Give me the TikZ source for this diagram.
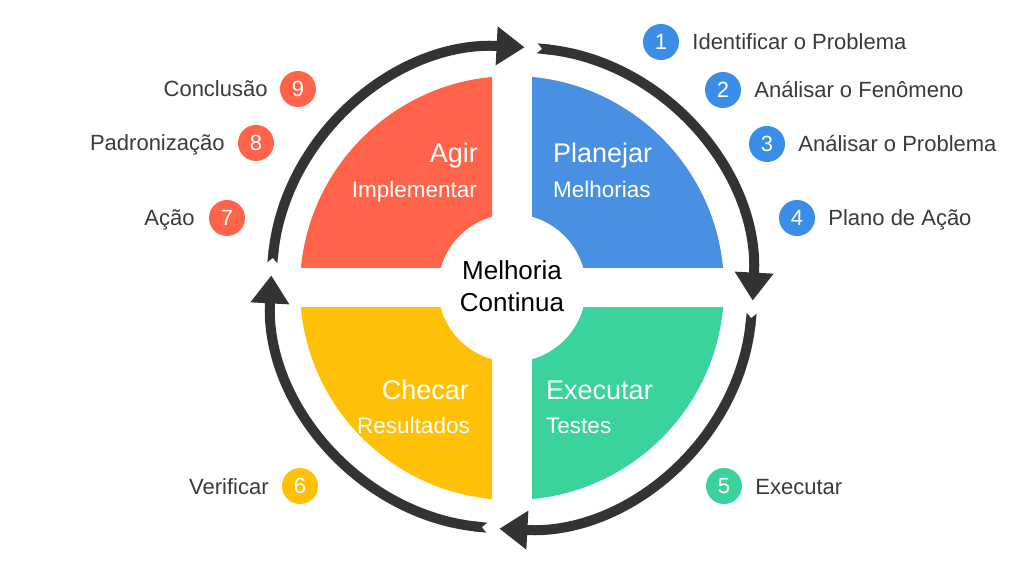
\documentclass[tikz,border=0pt]{standalone}
\usepackage{fontspec}
\setmainfont{Liberation Sans}
\usetikzlibrary{arrows.meta,positioning}

\definecolor{agirred}{HTML}{FF634A}
\definecolor{planblue}{HTML}{4A90E2}
\definecolor{checyellow}{HTML}{FFC107}
\definecolor{execgreen}{HTML}{3BD39C}
\definecolor{badgeblue}{HTML}{3A8EE8}
\definecolor{ringgray}{HTML}{333333}
\definecolor{textgray}{HTML}{3A3A3A}

\tikzset{
	ring/.style={line width=10pt, draw=ringgray, line cap=butt,
		{Triangle Cap[reversed]}-{Triangle[length=28pt,width=37pt]}},
	badge/.style={circle, fill=#1, text=white, minimum size=36pt, inner sep=0pt,
		font=\fontsize{22}{22}\selectfont},
	steplabel/.style={text=textgray, inner sep=0pt, text height=16pt, text depth=0pt,
		font=\fontsize{22}{26}\selectfont},
	qtitle/.style={text=white, inner sep=0pt, font=\fontsize{27}{30}\selectfont},
	qsub/.style={text=white, inner sep=0pt, font=\fontsize{22.5}{26}\selectfont},
	centertext/.style={text=black, inner sep=0pt, font=\fontsize{26}{30}\selectfont},
}

\begin{document}
\begin{tikzpicture}[x=1pt,y=1pt]
	\useasboundingbox[fill=white] (-512,-287) rectangle (512,288);
	
	% Quadranten
	\begin{scope}
		\clip (20,20) rectangle (240,240);
		\fill[planblue, even odd rule] (0,0) circle (212) (0,0) circle (74);
	\end{scope}
	\begin{scope}
		\clip (-20,20) rectangle (-240,240);
		\fill[agirred, even odd rule] (0,0) circle (212) (0,0) circle (74);
	\end{scope}
	\begin{scope}
		\clip (-20,-20) rectangle (-240,-240);
		\fill[checyellow, even odd rule] (0,0) circle (212) (0,0) circle (74);
	\end{scope}
	\begin{scope}
		\clip (20,-20) rectangle (240,-240);
		\fill[execgreen, even odd rule] (0,0) circle (212) (0,0) circle (74);
	\end{scope}
	
	% Ring mit Pfeilen
	\draw[ring] (174:241) arc[start angle=174, end angle=87, radius=241];
	\draw[ring] (84:241) arc[start angle=84, end angle=-3, radius=241];
	\draw[ring] (-6:241) arc[start angle=-6, end angle=-93, radius=241];
	\draw[ring] (-96:241) arc[start angle=-96, end angle=-183, radius=241];
	
	% Beschriftungen der Quadranten
	\node[qtitle, anchor=base east] (agir) at (-34,125) {Agir};
	\node[qsub, anchor=base east] (implementar) at (-35,90) {Implementar};
	\node[qtitle, anchor=base west] (planejar) at (41,125) {Planejar};
	\node[qsub, anchor=base west] (melhorias) at (41,90) {Melhorias};
	\node[qtitle, anchor=base east] (checar) at (-43,-111) {Checar};
	\node[qsub, anchor=base east] (resultados) at (-42,-145) {Resultados};
	\node[qtitle, anchor=base west] (executar) at (34,-111) {Executar};
	\node[qsub, anchor=base west] (testes) at (34,-145) {Testes};
	
	% Mitte
	\node[centertext, anchor=base] (melhoria) at (0,8) {Melhoria};
	\node[centertext, anchor=base] (continua) at (0,-24) {Continua};
	
	% Schritte
	\node[badge=badgeblue] (b1) at (149,246) {1};
	\node[steplabel, right=13pt of b1] (l1) {Identificar o Problema};
	\node[badge=badgeblue] (b2) at (211,198) {2};
	\node[steplabel, right=13pt of b2] (l2) {Análisar o Fenômeno};
	\node[badge=badgeblue] (b3) at (255,144) {3};
	\node[steplabel, right=13pt of b3] (l3) {Análisar o Problema};
	\node[badge=badgeblue] (b4) at (285,70) {4};
	\node[steplabel, right=13pt of b4] (l4) {Plano de Ação};
	
	\node[badge=execgreen] (b5) at (212,-198) {5};
	\node[steplabel, right=13pt of b5] (l5) {Executar};
	\node[badge=checyellow] (b6) at (-212,-198) {6};
	\node[steplabel, left=13pt of b6] (l6) {Verificar};
	
	\node[badge=agirred] (b7) at (-285,70) {7};
	\node[steplabel, left=14pt of b7] (l7) {Ação};
	\node[badge=agirred] (b8) at (-256,145) {8};
	\node[steplabel, left=13pt of b8] (l8) {Padronização};
	\node[badge=agirred] (b9) at (-214,199) {9};
	\node[steplabel, left=12pt of b9] (l9) {Conclusão};
	
\end{tikzpicture}
\end{document}
